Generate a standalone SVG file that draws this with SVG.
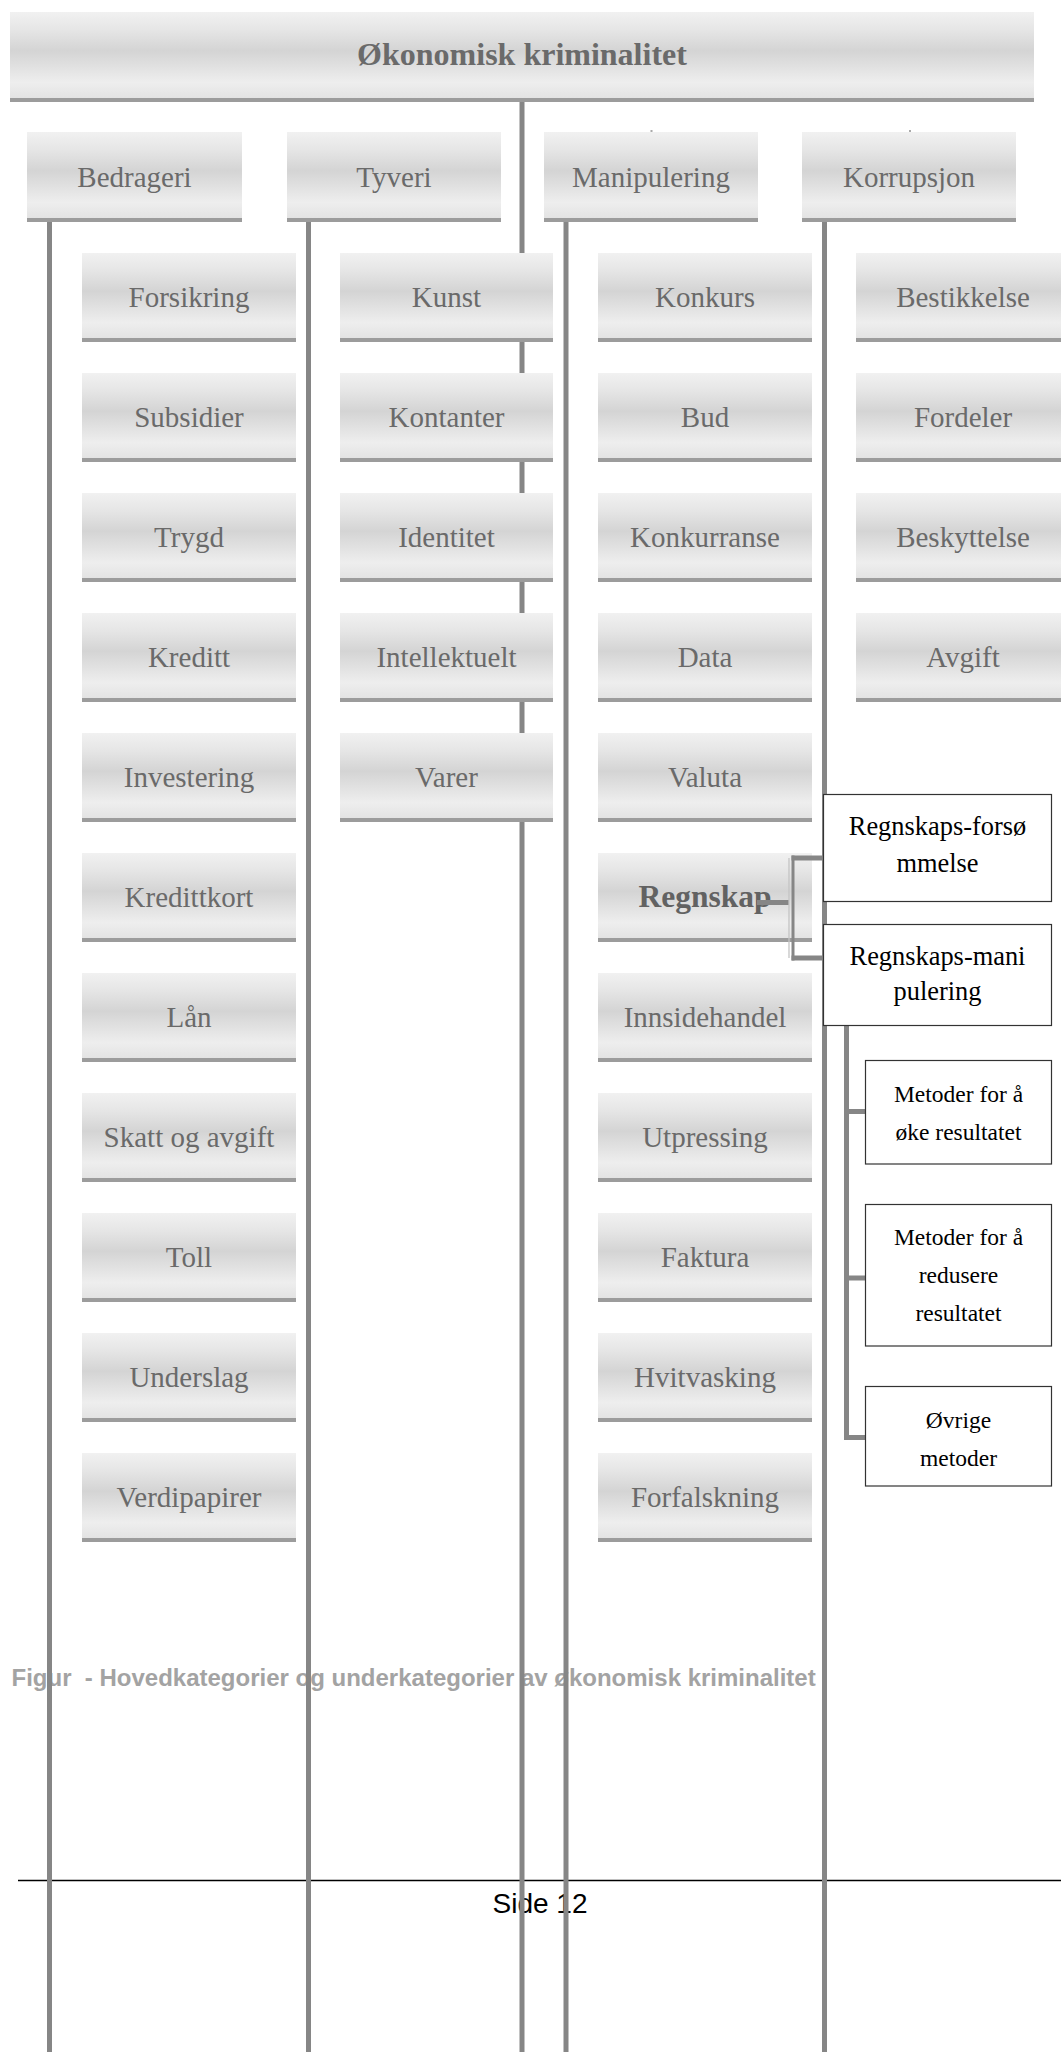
<svg xmlns="http://www.w3.org/2000/svg" width="1061" height="2052" viewBox="0 0 1061 2052">
<style>
.g{fill:url(#grad)}
.bar{fill:#9c9c9c}
.lbl{font-family:"Liberation Serif","Times New Roman",serif;font-size:29px;fill:#6a6a6a;text-anchor:middle}
.cat{font-family:"Liberation Serif","Times New Roman",serif;font-size:29px;fill:#6a6a6a;text-anchor:middle}
.title{font-family:"Liberation Serif","Times New Roman",serif;font-size:32px;font-weight:bold;fill:#6a6a6a;text-anchor:middle}
.bold{font-family:"Liberation Serif","Times New Roman",serif;font-size:31.5px;font-weight:bold;fill:#626262;text-anchor:middle}
.wbox{fill:#fff;stroke:#333;stroke-width:1.2}
.wt{font-family:"Liberation Serif","Times New Roman",serif;font-size:26.4px;fill:#000;text-anchor:middle}
.wt2{font-family:"Liberation Serif","Times New Roman",serif;font-size:23.5px;fill:#000;text-anchor:middle}
.ln{stroke:#868686;stroke-width:5;fill:none}
.caption{font-family:"Liberation Sans",Arial,sans-serif;font-size:24px;font-weight:bold;fill:#a3a3a3}
.foot{font-family:"Liberation Sans",Arial,sans-serif;font-size:28px;fill:#000;text-anchor:middle}
</style>
<defs>
<linearGradient id="grad" x1="0" y1="0" x2="0" y2="1">
<stop offset="0" stop-color="#f1f1f1"/>
<stop offset="0.2" stop-color="#e6e6e6"/>
<stop offset="0.45" stop-color="#d4d4d4"/>
<stop offset="0.58" stop-color="#dddddd"/>
<stop offset="0.82" stop-color="#eeeeee"/>
<stop offset="1" stop-color="#e3e3e3"/>
</linearGradient>
</defs>
<rect width="1061" height="2052" fill="#fff"/>

<g id="footer">
<text class="caption" x="11.5" y="1686" xml:space="preserve">Figur  - Hovedkategorier og underkategorier av økonomisk kriminalitet</text>
<line x1="18" y1="1880.5" x2="1061" y2="1880.5" stroke="#000" stroke-width="1.6"/>
<text class="foot" x="540" y="1913">Side 12</text>
</g>

<g id="connectors">
<line class="ln" x1="522" y1="100" x2="522" y2="2052"/>
<line class="ln" x1="49.5" y1="220" x2="49.5" y2="2052"/>
<line class="ln" x1="308.5" y1="220" x2="308.5" y2="2052"/>
<line class="ln" x1="566" y1="220" x2="566" y2="2052"/>
<line class="ln" x1="824.5" y1="220" x2="824.5" y2="2052"/>
<path class="ln" d="M846.5 1025 V1437.5 H865.5 M846.5 1111.5 H865.5 M846.5 1278 H865.5"/>
<rect x="134" y="98" width="2" height="2" fill="#707070"/>
<rect x="393" y="98" width="2" height="2" fill="#707070"/>
<rect x="650.5" y="130" width="2" height="2" fill="#aaaaaa"/>
<rect x="909" y="130" width="2" height="2" fill="#aaaaaa"/>
</g>

<g id="n-root"><rect class="g" x="10" y="12" width="1024" height="86"/><rect class="bar" x="10" y="98" width="1024" height="4"/><text class="title" x="522" y="65">Økonomisk kriminalitet</text></g>

<g id="n-bedrageri"><rect class="g" x="27" y="132" width="215" height="86"/><rect class="bar" x="27" y="218" width="215" height="4"/><text class="cat" x="134.5" y="187">Bedrageri</text></g>
<g id="n-tyveri"><rect class="g" x="287" y="132" width="214" height="86"/><rect class="bar" x="287" y="218" width="214" height="4"/><text class="cat" x="394" y="187">Tyveri</text></g>
<g id="n-manipulering"><rect class="g" x="544" y="132" width="214" height="86"/><rect class="bar" x="544" y="218" width="214" height="4"/><text class="cat" x="651" y="187">Manipulering</text></g>
<g id="n-korrupsjon"><rect class="g" x="802" y="132" width="214" height="86"/><rect class="bar" x="802" y="218" width="214" height="4"/><text class="cat" x="909" y="187">Korrupsjon</text></g>

<g id="n-forsikring"><rect class="g" x="82" y="253" width="214" height="85"/><rect class="bar" x="82" y="338" width="214" height="4"/><text class="lbl" x="189" y="307">Forsikring</text></g>
<g id="n-subsidier"><rect class="g" x="82" y="373" width="214" height="85"/><rect class="bar" x="82" y="458" width="214" height="4"/><text class="lbl" x="189" y="427">Subsidier</text></g>
<g id="n-trygd"><rect class="g" x="82" y="493" width="214" height="85"/><rect class="bar" x="82" y="578" width="214" height="4"/><text class="lbl" x="189" y="547">Trygd</text></g>
<g id="n-kreditt"><rect class="g" x="82" y="613" width="214" height="85"/><rect class="bar" x="82" y="698" width="214" height="4"/><text class="lbl" x="189" y="667">Kreditt</text></g>
<g id="n-investering"><rect class="g" x="82" y="733" width="214" height="85"/><rect class="bar" x="82" y="818" width="214" height="4"/><text class="lbl" x="189" y="787">Investering</text></g>
<g id="n-kredittkort"><rect class="g" x="82" y="853" width="214" height="85"/><rect class="bar" x="82" y="938" width="214" height="4"/><text class="lbl" x="189" y="907">Kredittkort</text></g>
<g id="n-laan"><rect class="g" x="82" y="973" width="214" height="85"/><rect class="bar" x="82" y="1058" width="214" height="4"/><text class="lbl" x="189" y="1027">Lån</text></g>
<g id="n-skatt"><rect class="g" x="82" y="1093" width="214" height="85"/><rect class="bar" x="82" y="1178" width="214" height="4"/><text class="lbl" x="189" y="1147">Skatt og avgift</text></g>
<g id="n-toll"><rect class="g" x="82" y="1213" width="214" height="85"/><rect class="bar" x="82" y="1298" width="214" height="4"/><text class="lbl" x="189" y="1267">Toll</text></g>
<g id="n-underslag"><rect class="g" x="82" y="1333" width="214" height="85"/><rect class="bar" x="82" y="1418" width="214" height="4"/><text class="lbl" x="189" y="1387">Underslag</text></g>
<g id="n-verdipapirer"><rect class="g" x="82" y="1453" width="214" height="85"/><rect class="bar" x="82" y="1538" width="214" height="4"/><text class="lbl" x="189" y="1507">Verdipapirer</text></g>

<g id="n-kunst"><rect class="g" x="340" y="253" width="213" height="85"/><rect class="bar" x="340" y="338" width="213" height="4"/><text class="lbl" x="446.5" y="307">Kunst</text></g>
<g id="n-kontanter"><rect class="g" x="340" y="373" width="213" height="85"/><rect class="bar" x="340" y="458" width="213" height="4"/><text class="lbl" x="446.5" y="427">Kontanter</text></g>
<g id="n-identitet"><rect class="g" x="340" y="493" width="213" height="85"/><rect class="bar" x="340" y="578" width="213" height="4"/><text class="lbl" x="446.5" y="547">Identitet</text></g>
<g id="n-intellektuelt"><rect class="g" x="340" y="613" width="213" height="85"/><rect class="bar" x="340" y="698" width="213" height="4"/><text class="lbl" x="446.5" y="667">Intellektuelt</text></g>
<g id="n-varer"><rect class="g" x="340" y="733" width="213" height="85"/><rect class="bar" x="340" y="818" width="213" height="4"/><text class="lbl" x="446.5" y="787">Varer</text></g>

<g id="n-konkurs"><rect class="g" x="598" y="253" width="214" height="85"/><rect class="bar" x="598" y="338" width="214" height="4"/><text class="lbl" x="705" y="307">Konkurs</text></g>
<g id="n-bud"><rect class="g" x="598" y="373" width="214" height="85"/><rect class="bar" x="598" y="458" width="214" height="4"/><text class="lbl" x="705" y="427">Bud</text></g>
<g id="n-konkurranse"><rect class="g" x="598" y="493" width="214" height="85"/><rect class="bar" x="598" y="578" width="214" height="4"/><text class="lbl" x="705" y="547">Konkurranse</text></g>
<g id="n-data"><rect class="g" x="598" y="613" width="214" height="85"/><rect class="bar" x="598" y="698" width="214" height="4"/><text class="lbl" x="705" y="667">Data</text></g>
<g id="n-valuta"><rect class="g" x="598" y="733" width="214" height="85"/><rect class="bar" x="598" y="818" width="214" height="4"/><text class="lbl" x="705" y="787">Valuta</text></g>
<g id="n-regnskap"><rect class="g" x="598" y="853" width="214" height="85"/><rect class="bar" x="598" y="938" width="214" height="4"/><text class="bold" x="705" y="907">Regnskap</text></g>
<g id="n-innsidehandel"><rect class="g" x="598" y="973" width="214" height="85"/><rect class="bar" x="598" y="1058" width="214" height="4"/><text class="lbl" x="705" y="1027">Innsidehandel</text></g>
<g id="n-utpressing"><rect class="g" x="598" y="1093" width="214" height="85"/><rect class="bar" x="598" y="1178" width="214" height="4"/><text class="lbl" x="705" y="1147">Utpressing</text></g>
<g id="n-faktura"><rect class="g" x="598" y="1213" width="214" height="85"/><rect class="bar" x="598" y="1298" width="214" height="4"/><text class="lbl" x="705" y="1267">Faktura</text></g>
<g id="n-hvitvasking"><rect class="g" x="598" y="1333" width="214" height="85"/><rect class="bar" x="598" y="1418" width="214" height="4"/><text class="lbl" x="705" y="1387">Hvitvasking</text></g>
<g id="n-forfalskning"><rect class="g" x="598" y="1453" width="214" height="85"/><rect class="bar" x="598" y="1538" width="214" height="4"/><text class="lbl" x="705" y="1507">Forfalskning</text></g>

<g id="n-bestikkelse"><rect class="g" x="856" y="253" width="214" height="85"/><rect class="bar" x="856" y="338" width="214" height="4"/><text class="lbl" x="963" y="307">Bestikkelse</text></g>
<g id="n-fordeler"><rect class="g" x="856" y="373" width="214" height="85"/><rect class="bar" x="856" y="458" width="214" height="4"/><text class="lbl" x="963" y="427">Fordeler</text></g>
<g id="n-beskyttelse"><rect class="g" x="856" y="493" width="214" height="85"/><rect class="bar" x="856" y="578" width="214" height="4"/><text class="lbl" x="963" y="547">Beskyttelse</text></g>
<g id="n-avgift"><rect class="g" x="856" y="613" width="214" height="85"/><rect class="bar" x="856" y="698" width="214" height="4"/><text class="lbl" x="963" y="667">Avgift</text></g>

<g id="connectors-regnskap">
<line class="ln" x1="757" y1="902.5" x2="789" y2="902.5"/>
<line x1="789" y1="858" x2="789" y2="958" stroke="#c4c4c4" stroke-width="1.3"/>
<line x1="793" y1="855.5" x2="793" y2="960.5" stroke="#868686" stroke-width="3"/>
<line x1="791.5" y1="858" x2="823.5" y2="858" stroke="#868686" stroke-width="5"/>
<line x1="791.5" y1="958" x2="823.5" y2="958" stroke="#868686" stroke-width="5"/>
</g>

<g id="n-forsommelse"><rect class="wbox" x="823.5" y="794.5" width="228" height="107"/><text class="wt" x="937.5" y="835">Regnskaps-forsø</text><text class="wt" x="937.5" y="871.5">mmelse</text></g>
<g id="n-manipulasjon"><rect class="wbox" x="823.5" y="924.5" width="228" height="101"/><text class="wt" x="937.5" y="965">Regnskaps-mani</text><text class="wt" x="937.5" y="1000">pulering</text></g>
<g id="n-oke"><rect class="wbox" x="865.5" y="1060.5" width="186" height="103.5"/><text class="wt2" x="958.5" y="1101.5">Metoder for å</text><text class="wt2" x="958.5" y="1139.5">øke resultatet</text></g>
<g id="n-redusere"><rect class="wbox" x="865.5" y="1204.5" width="186" height="141.5"/><text class="wt2" x="958.5" y="1245">Metoder for å</text><text class="wt2" x="958.5" y="1283">redusere</text><text class="wt2" x="958.5" y="1321">resultatet</text></g>
<g id="n-ovrige"><rect class="wbox" x="865.5" y="1386.5" width="186" height="99.5"/><text class="wt2" x="958.5" y="1428">Øvrige</text><text class="wt2" x="958.5" y="1466">metoder</text></g>
</svg>
